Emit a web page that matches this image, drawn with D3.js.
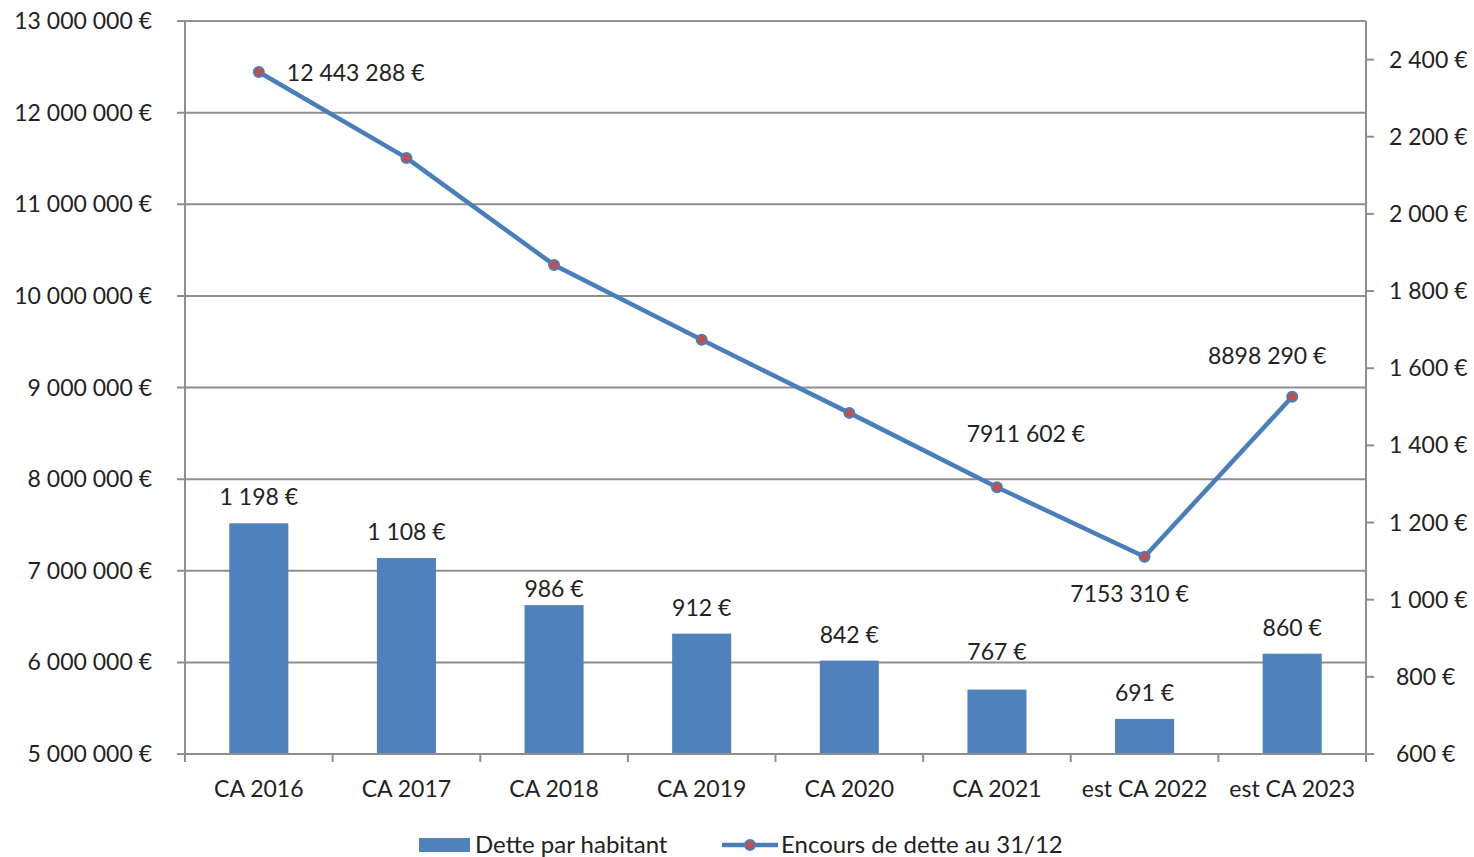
<!DOCTYPE html>
<html>
<head>
<meta charset="utf-8">
<script src="https://cdn.jsdelivr.net/npm/d3@7"></script>
<style>
  body { margin: 0; background: #fff; }
  svg text { font-family: Lato, "Liberation Sans", sans-serif; fill: #222; }
</style>
</head>
<body>
<svg id="chart" width="1474" height="857"></svg>
<script>
// categories and series
const categories = ["CA 2016", "CA 2017", "CA 2018", "CA 2019", "CA 2020", "CA 2021", "est CA 2022", "est CA 2023"];
const detteParHabitant = [1198, 1108, 986, 912, 842, 767, 691, 860];
const encoursDette = [12443288, 11506000, 10338000, 9520000, 8723000, 7911602, 7153310, 8898290];
// which line points get a label, and where (side)
const lineLabels = [
  { i: 0, pos: "right" },
  { i: 5, pos: "above" },
  { i: 6, pos: "below" },
  { i: 7, pos: "above" }
];
const leftTicks = [5000000, 6000000, 7000000, 8000000, 9000000, 10000000, 11000000, 12000000, 13000000];
const rightTicks = [600, 800, 1000, 1200, 1400, 1600, 1800, 2000, 2200, 2400];

const seriesNames = ["Dette par habitant", "Encours de dette au 31/12"];

const fmt = v => d3.format(",")(v).replace(/,/g, "\u00a0") + "\u00a0€";

const svg = d3.select("#chart");
const plot = { left: 185, right: 1366, top: 21, bottom: 754 };

const x = d3.scaleBand().domain(categories).range([plot.left, plot.right]);
const yL = d3.scaleLinear().domain([5000000, 13000000]).range([plot.bottom, plot.top]);
const yR = d3.scaleLinear().domain([600, 2500]).range([plot.bottom, plot.top]);

const grid = "#8e8e8e";
const fs = "23px";

// gridlines
svg.append("g")
  .selectAll("line")
  .data(leftTicks)
  .enter().append("line")
  .attr("x1", plot.left - 8).attr("x2", plot.right)
  .attr("y1", d => yL(d)).attr("y2", d => yL(d))
  .attr("stroke", grid).attr("stroke-width", 2);

// left axis
svg.append("line")
  .attr("x1", plot.left).attr("x2", plot.left).attr("y1", plot.top).attr("y2", plot.bottom)
  .attr("stroke", grid).attr("stroke-width", 2);
svg.append("g").selectAll("text")
  .data(leftTicks).enter().append("text")
  .attr("x", 152).attr("y", d => yL(d))
  .attr("dy", "0.35em")
  .attr("text-anchor", "end")
  .style("font-size", fs)
  .text(d => fmt(d));

// right axis
svg.append("line")
  .attr("x1", plot.right).attr("x2", plot.right).attr("y1", plot.top).attr("y2", plot.bottom)
  .attr("stroke", grid).attr("stroke-width", 2);
svg.append("g").selectAll("line")
  .data(rightTicks).enter().append("line")
  .attr("x1", plot.right).attr("x2", plot.right + 8)
  .attr("y1", d => yR(d)).attr("y2", d => yR(d))
  .attr("stroke", grid).attr("stroke-width", 2);
svg.append("g").selectAll("text")
  .data(rightTicks).enter().append("text")
  .attr("x", d => d >= 1000 ? 1389 : 1396).attr("y", d => yR(d))
  .attr("dy", "0.35em")
  .attr("text-anchor", "start")
  .style("font-size", fs)
  .text(d => fmt(d));

// bars
svg.append("g").selectAll("rect")
  .data(detteParHabitant).enter().append("rect")
  .attr("x", (d, i) => x(categories[i]) + x.bandwidth() * 0.3)
  .attr("width", x.bandwidth() * 0.4)
  .attr("y", d => yR(d))
  .attr("height", d => plot.bottom - yR(d))
  .attr("fill", "#4f81bd");

// bar labels sit ~26px above the bar, a couple nudged to dodge the line
const barLabelGap = i => i === 2 ? 16 : i === 5 ? 38 : 26;
svg.append("g").selectAll("text")
  .data(detteParHabitant).enter().append("text")
  .attr("x", (d, i) => x(categories[i]) + x.bandwidth() / 2)
  .attr("y", (d, i) => yR(d) - barLabelGap(i))
  .attr("dy", "0.35em")
  .attr("text-anchor", "middle")
  .style("font-size", fs)
  .text(d => fmt(d));

// bottom axis
svg.append("line")
  .attr("x1", plot.left).attr("x2", plot.right).attr("y1", plot.bottom).attr("y2", plot.bottom)
  .attr("stroke", grid).attr("stroke-width", 2);
svg.append("g").selectAll("line")
  .data(categories.concat(["end"])).enter().append("line")
  .attr("x1", (d, i) => plot.left + i * x.bandwidth())
  .attr("x2", (d, i) => plot.left + i * x.bandwidth())
  .attr("y1", plot.bottom).attr("y2", plot.bottom + 8)
  .attr("stroke", grid).attr("stroke-width", 2);
svg.append("g").selectAll("text")
  .data(categories).enter().append("text")
  .attr("x", d => x(d) + x.bandwidth() / 2)
  .attr("y", 789)
  .attr("dy", "0.35em")
  .attr("text-anchor", "middle")
  .style("font-size", fs)
  .text(d => d);

// line
const line = d3.line()
  .x((d, i) => x(categories[i]) + x.bandwidth() / 2)
  .y(d => yL(d));
svg.append("path")
  .datum(encoursDette)
  .attr("d", line)
  .attr("fill", "none")
  .attr("stroke", "#4a7ebb")
  .attr("stroke-width", 4.5)
  .attr("stroke-linejoin", "round");

svg.append("g").selectAll("circle")
  .data(encoursDette).enter().append("circle")
  .attr("cx", (d, i) => x(categories[i]) + x.bandwidth() / 2)
  .attr("cy", d => yL(d))
  .attr("r", 5)
  .attr("fill", "#c0504d")
  .attr("stroke", "#4a7ebb")
  .attr("stroke-width", 2);

const lineFmt = (v, i) => {
  const s = fmt(v);
  // the reference writes 7911602 etc. with no space after the millions digit
  return i === 0 ? s : s.replace("\u00a0", "");
};
svg.append("g").selectAll("text")
  .data(lineLabels).enter().append("text")
  .attr("x", d => {
    const cx = x(categories[d.i]) + x.bandwidth() / 2;
    if (d.pos === "right") return cx + 28;
    if (d.pos === "above") return cx + (d.i === 5 ? 29 : -25);
    return cx - 15;
  })
  .attr("y", d => {
    const cy = yL(encoursDette[d.i]);
    if (d.pos === "right") return cy + 1;
    if (d.pos === "above") return cy - (d.i === 5 ? 53 : 41);
    return cy + 37;
  })
  .attr("dy", "0.35em")
  .attr("text-anchor", d => d.pos === "right" ? "start" : "middle")
  .style("font-size", fs)
  .text(d => lineFmt(encoursDette[d.i], d.i));

// legend
const lg = svg.append("g");
lg.append("rect").attr("x", 419).attr("y", 838).attr("width", 51).attr("height", 14).attr("fill", "#4f81bd");
lg.append("text").attr("x", 475).attr("y", 845).attr("dy", "0.35em")
  .style("font-size", "24px").text(seriesNames[0]);
lg.append("line").attr("x1", 722).attr("x2", 778).attr("y1", 845).attr("y2", 845)
  .attr("stroke", "#4a7ebb").attr("stroke-width", 4.5);
lg.append("circle").attr("cx", 750).attr("cy", 845).attr("r", 5)
  .attr("fill", "#c0504d").attr("stroke", "#4a7ebb").attr("stroke-width", 2);
lg.append("text").attr("x", 781).attr("y", 845).attr("dy", "0.35em")
  .style("font-size", "24px").text(seriesNames[1]);
</script>
</body>
</html>
